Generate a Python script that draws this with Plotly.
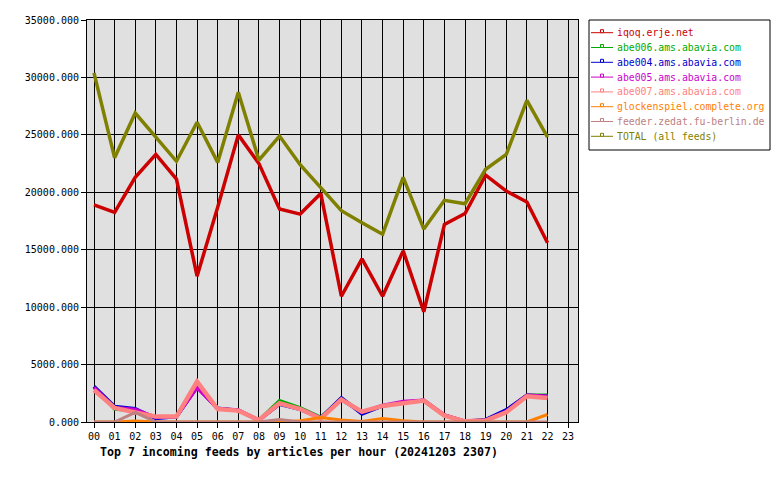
import plotly.graph_objects as go

hours = list(range(23))
hour_labels = [f"{h:02d}" for h in range(24)]

iqoq = [18900, 18250, 21300, 23300, 21150, 12700, 18700, 25000, 22500, 18550, 18100,
        19900, 10950, 14200, 10950, 14900, 9600, 17200, 18150, 21500, 20100, 19150, 15600]
abe006 = [3080, 1130, 1000, 420, 470, 3100, 1150, 1000, 150, 1860, 1220, 400,
          2000, 850, 1400, 1700, 1850, 580, 60, 150, 950, 2330, 2330]
abe004 = [3100, 1340, 1150, 300, 470, 3050, 1190, 1000, 150, 1550, 1100, 350,
          2100, 700, 1400, 1700, 1880, 580, 60, 200, 1050, 2330, 2240]
abe005 = [3000, 1250, 1100, 400, 470, 3000, 1150, 1050, 150, 1600, 1150, 350,
          1950, 850, 1450, 1780, 1900, 620, 60, 150, 900, 2330, 2250]
abe007 = [2790, 1220, 840, 470, 470, 3520, 1130, 990, 170, 1630, 1130, 300,
          1950, 900, 1400, 1630, 1860, 550, 60, 120, 840, 2240, 2090]
glocken = [0, 0, 90, 0, 0, 0, 0, 0, 0, 0, 100, 400, 170, 50, 300, 110, 0, 0, 0, 0, 0, 0, 650]
feeder = [0, 0, 840, 0, 0, 0, 0, 0, 0, 220, 0, 0, 0, 0, 0, 0, 0, 0, 0, 0, 0, 0, 0]
total = [30400, 23000, 26900, 24800, 22700, 26100, 22600, 28700, 22800, 24900, 22400,
         20400, 18400, 17350, 16350, 21300, 16800, 19300, 19000, 22000, 23300, 28000, 24800]

names = ["iqoq.erje.net", "abe006.ams.abavia.com", "abe004.ams.abavia.com",
         "abe005.ams.abavia.com", "abe007.ams.abavia.com", "glockenspiel.complete.org",
         "feeder.zedat.fu-berlin.de", "TOTAL (all feeds)"]
values = [iqoq, abe006, abe004, abe005, abe007, glocken, feeder, total]
colors = ["#cc0000", "#00aa00", "#0000cc", "#cc00cc", "#ff8080", "#ff8000", "#c08080", "#808000"]
widths = [3.5, 3.5, 3.5, 3.5, 4.5, 3, 3, 3.5]

# plot area in pixels
L, R, T, B = 87, 578, 20, 422
W, H = R - L, B - T


def px(x):
    return (x - L) / W


def py(y):
    return (B - y) / H


fig = go.Figure()
for name, vals, col, w in zip(names, values, colors, widths):
    fig.add_trace(go.Scatter(x=hours, y=vals, mode="lines", name=name,
                             line=dict(color=col, width=w), showlegend=False))

mono = "DejaVu Sans Mono"
shapes = [dict(type="rect", xref="paper", yref="paper", x0=px(589), x1=px(770),
               y0=py(150), y1=py(20), line=dict(color="black", width=1),
               fillcolor="white", layer="above")]
annotations = []
for i, (name, col) in enumerate(zip(names, colors)):
    yy = 32.7 + 14.8 * i
    shapes.append(dict(type="line", xref="paper", yref="paper", x0=px(591), x1=px(613),
                       y0=py(yy), y1=py(yy), line=dict(color=col, width=1), layer="above"))
    shapes.append(dict(type="rect", xref="paper", yref="paper", x0=px(600.5), x1=px(603.5),
                       y0=py(yy), y1=py(yy - 3), line=dict(color=col, width=1),
                       fillcolor="white", layer="above"))
    annotations.append(dict(text=name, xref="paper", yref="paper", x=px(615), y=py(yy),
                            xanchor="left", yanchor="middle", showarrow=False,
                            font=dict(family=mono, size=9.8, color=col)))

annotations.append(dict(
    text="<b>Top 7 incoming feeds by articles per hour (20241203 2307)</b>",
    xref="paper", yref="paper", x=px(98), y=py(452),
    xanchor="left", yanchor="middle", showarrow=False,
    font=dict(family=mono, size=11.6, color="black")))

fig.update_layout(
    width=780, height=480,
    margin=dict(l=L, r=780 - R, t=T, b=480 - B),
    paper_bgcolor="white", plot_bgcolor="#e0e0e0",
    font=dict(family=mono, size=10, color="black"),
    showlegend=False,
    xaxis=dict(range=[-0.34, 23.48], tickmode="array", tickvals=list(range(24)),
               ticktext=hour_labels, showgrid=True, gridcolor="black", gridwidth=1,
               ticks="outside", ticklen=5, tickcolor="black", showline=True,
               linecolor="black", linewidth=1, mirror=True, zeroline=False,
               tickfont=dict(family=mono, size=10)),
    yaxis=dict(range=[0, 35000], tickmode="array", tickvals=list(range(0, 35001, 5000)),
               tickformat=".3f", showgrid=True, gridcolor="black", gridwidth=1,
               ticks="outside", ticklen=5, tickcolor="black", showline=True,
               linecolor="black", linewidth=1, mirror=True, zeroline=False,
               tickfont=dict(family=mono, size=10)),
    shapes=shapes,
    annotations=annotations,
)

fig.write_html("out.html")
